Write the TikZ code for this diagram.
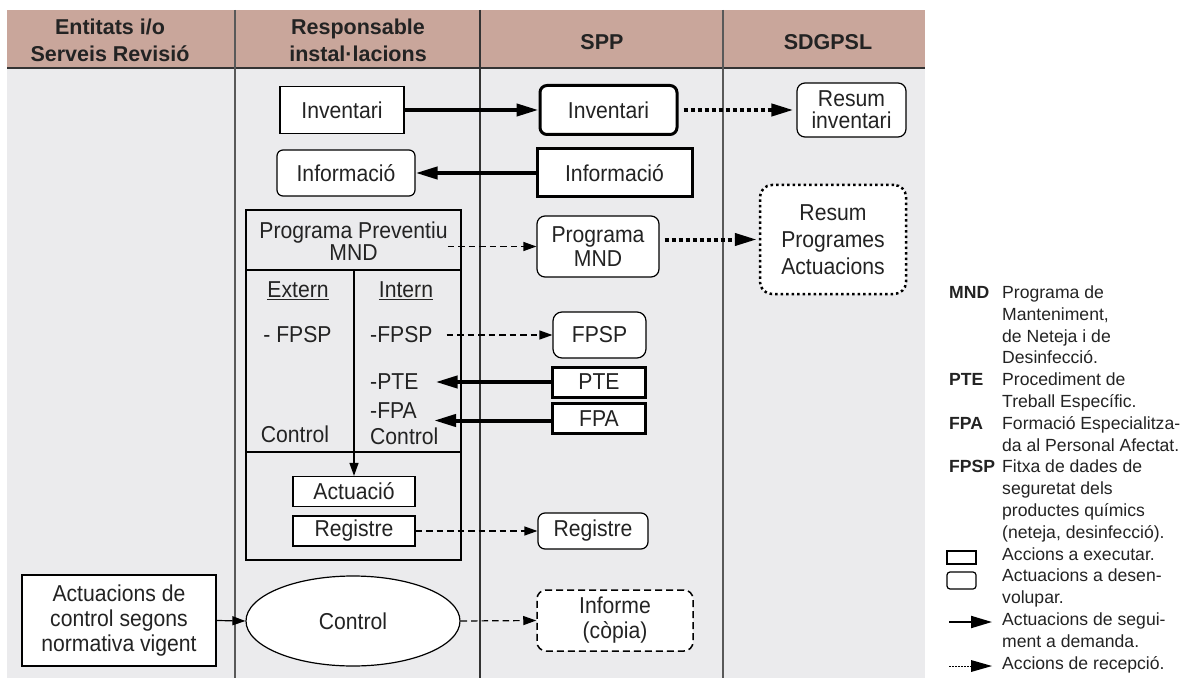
\documentclass[tikz,border=0pt]{standalone}
\usepackage{fontspec}
\setmainfont{Liberation Sans}
\newfontfamily\bodyf{Liberation Sans}[FakeStretch=0.92]
\usetikzlibrary{arrows.meta,shapes.geometric,calc}
\definecolor{hdr}{RGB}{201,166,155}
\definecolor{bodybg}{RGB}{235,235,237}
\definecolor{txt}{RGB}{35,35,35}
\tikzset{
 bx/.style={draw, fill=white, line width=1.2pt, inner sep=0pt, text=txt,
   font=\bodyf\fontsize{23}{24}\selectfont, align=center},
 rbx/.style={bx, rounded corners=6pt},
 thickbx/.style={line width=3pt},
 lbl/.style={inner sep=0pt, text=txt, font=\bodyf\fontsize{23}{24}\selectfont},
 hdrtxt/.style={font=\bfseries\fontsize{21.5}{27}\selectfont, align=center, inner sep=0pt, text=txt},
 leg/.style={font=\fontsize{17.6}{21.8}\selectfont, inner sep=0pt, anchor=base west, text=txt},
 legb/.style={leg, font=\bfseries\fontsize{17.6}{21.8}\selectfont},
 harrow/.style={line width=4pt, -{Triangle[length=22pt,width=12pt]}},
 darrow/.style={line width=1.2pt, dash pattern=on 6.5pt off 4pt, -{Triangle[length=13pt,width=9pt]}},
 dotarrow/.style={line width=4pt, dash pattern=on 4pt off 3pt, -{Triangle[length=22pt,width=12pt]}},
 tarrow/.style={line width=1.2pt, -{Triangle[length=13pt,width=9pt]}},
 colline/.style={line width=1.2pt, draw=black!65},
}
\begin{document}
\begin{tikzpicture}[x=1pt,y=-1pt]
\useasboundingbox (0,0) rectangle (1183,679);
% background bands
\fill[bodybg] (7,68) rectangle (925,678);
\fill[hdr] (7,10) rectangle (925,68);
\draw[line width=1.2pt, draw=black!80] (7,68) -- (925,68);
\draw[colline] (235,10) -- (235,678);
\draw[line width=1.3pt, draw=black!80] (480,10) -- (480,678);
\draw[colline] (723,10) -- (723,678);
% headers
\node[hdrtxt] (h1) at (110,40) {Entitats i/o\\Serveis Revisió};
\node[hdrtxt] (h2) at (358,40) {Responsable\\instal·lacions};
\node[hdrtxt] (h3) at (602,42) {SPP};
\node[hdrtxt] (h4) at (828,42) {SDGPSL};
% top rows
\node[bx, minimum width=124pt, minimum height=47pt] (invL) at (342,110) {Inventari};
\node[rbx, minimum width=138pt, minimum height=46pt] (infL) at (346,173) {Informació};
\node[rbx, thickbx, rounded corners=7pt, minimum width=137pt, minimum height=49pt] (invS) at (608.5,110) {Inventari};
\node[bx, thickbx, minimum width=155pt, minimum height=48pt] (infS) at (614.5,173) {Informació};
\node[rbx, rounded corners=8pt, minimum width=109pt, minimum height=54pt, font=\bodyf\fontsize{23}{22}\selectfont] (resInv) at (851.5,110) {Resum\\inventari};
% programme block
\node[draw, line width=1.2pt, minimum width=215pt, minimum height=350pt, inner sep=0pt] (prog) at (353.5,385) {};
\coordinate (sepL) at (246,270);
\coordinate (sepR) at (461,270);
\coordinate (rowL) at (246,452);
\coordinate (rowR) at (461,452);
\coordinate (divtop) at (354,270);
\draw[line width=1.2pt] (sepL) -- (sepR);
\draw[line width=1.2pt] (rowL) -- (rowR);
\node[lbl, align=center, font=\bodyf\fontsize{23}{22.5}\selectfont] (ptitle) at (353.5,241) {Programa Preventiu\\MND};
\node[rbx, rounded corners=8pt, minimum width=122pt, minimum height=61pt, font=\bodyf\fontsize{23}{24}\selectfont] (progS) at (598,246.5) {Programa\\MND};
\node[rbx, rounded corners=12pt, line width=2.5pt, dash pattern=on 2.5pt off 3pt, minimum width=146pt, minimum height=109pt, font=\bodyf\fontsize{23}{27}\selectfont] (resProg) at (833,239.5) {Resum\\Programes\\Actuacions};
\node[lbl] (ext) at (298,291) {\underline{Extern}};
\node[lbl] (int) at (406,291) {\underline{Intern}};
\node[lbl] (fpspE) at (297.5,335) {- FPSP};
\node[lbl, anchor=west] (fpspI) at (370,335) {-FPSP};
\node[lbl, anchor=west] (pteI) at (370,382) {-PTE};
\node[lbl, anchor=west] (fpaI) at (370,411) {-FPA};
\node[lbl, anchor=west] (ctlI) at (370,436) {Control};
\node[lbl] (ctlE) at (295,434) {Control};
\node[rbx, rounded corners=9pt, minimum width=93pt, minimum height=46pt] (fpsp) at (599.5,335) {FPSP};
\node[bx, thickbx, minimum width=93pt, minimum height=30pt] (pte) at (599,382) {PTE};
\node[bx, thickbx, minimum width=93pt, minimum height=30pt] (fpa) at (599,418.5) {FPA};
\node[bx, minimum width=122pt, minimum height=30pt] (act) at (354,491.5) {Actuació};
\node[bx, minimum width=122pt, minimum height=30pt] (reg) at (354,531) {Registre};
\node[rbx, rounded corners=7pt, minimum width=110pt, minimum height=36pt] (regS) at (593,531) {Registre};
% bottom row
\node[bx, minimum width=194pt, minimum height=91pt, font=\bodyf\fontsize{23}{25}\selectfont] (ctrlBox) at (119,620.5) {Actuacions de\\control segons\\normativa vigent};
\node[bx, ellipse, minimum width=214pt, minimum height=90pt] (ell) at (353,621) {Control};
\node[rbx, rounded corners=9pt, line width=1.5pt, dash pattern=on 7pt off 4pt, minimum width=156pt, minimum height=61pt, font=\bodyf\fontsize{23}{25}\selectfont] (inform) at (615,620.5) {Informe\\(còpia)};
% connectors
\draw[harrow] (invL.east) -- (invS.west);
\draw[harrow] (infS.west) -- (infL.east);
\draw[dotarrow, shorten <=5pt, shorten >=3pt] (invS.east) -- (invS.east -| resInv.west);
\draw[darrow] (ptitle.east |- progS.west) -- (progS.west);
\draw[dotarrow, shorten <=5pt, shorten >=2pt] (progS.east |- resProg.west) -- (resProg.west);
\draw[darrow, shorten <=14pt] (fpspI.east) -- (fpsp.west);
\draw[harrow, shorten >=17pt] (pte.west) -- (pte.west -| pteI.east);
\draw[harrow, shorten >=17pt] ([yshift=-2pt]fpa.west) -- ([yshift=-2pt]fpa.west -| fpaI.east);
\draw[tarrow] (divtop) -- (act.north);
\draw[darrow] (reg.east) -- (regS.west);
\draw[tarrow] (ctrlBox.east) -- (ell.west);
\draw[darrow] (ell.east) -- (inform.west);
% legend
\node[legb] (lgMND) at (949,298.5) {MND};
\node[leg] (lg1) at (1002,298.5) {Programa de};
\node[leg] (lg2) at (1002,320.3) {Manteniment,};
\node[leg] (lg3) at (1002,342.1) {de Neteja i de};
\node[leg] (lg4) at (1002,363.9) {Desinfecció.};
\node[legb] (lgPTE) at (949,385.7) {PTE};
\node[leg] (lg5) at (1002,385.7) {Procediment de};
\node[leg] (lg6) at (1002,407.5) {Treball Específic.};
\node[legb] (lgFPA) at (949,429.3) {FPA};
\node[leg] (lg7) at (1002,429.3) {Formació Especialitza-};
\node[leg] (lg8) at (1002,451.1) {da al Personal Afectat.};
\node[legb] (lgFPSP) at (949,472.9) {FPSP};
\node[leg] (lg9) at (1002,472.9) {Fitxa de dades de};
\node[leg] (lg10) at (1002,494.7) {seguretat dels};
\node[leg] (lg11) at (1002,516.5) {productes químics};
\node[leg] (lg12) at (1002,538.3) {(neteja, desinfecció).};
\node[leg] (lg13) at (1002,560.1) {Accions a executar.};
\node[leg] (lg14) at (1002,581.9) {Actuacions a desen-};
\node[leg] (lg15) at (1002,603.7) {volupar.};
\node[leg] (lg16) at (1002,625.5) {Actuacions de segui-};
\node[leg] (lg17) at (1002,647.3) {ment a demanda.};
\node[leg] (lg18) at (1002,669.1) {Accions de recepció.};
\draw[line width=1.2pt] (947,551) rectangle (976,564);
\draw[line width=1.2pt, rounded corners=3pt] (947,572) rectangle (976,589);
\draw[line width=2pt, -{Triangle[length=21pt,width=12pt]}] (949,622) -- (992,622);
\draw[line width=1pt, dash pattern=on 1.5pt off 1.5pt] (949,666) -- (972,666);
\fill (971,660) -- (992,666) -- (971,672) -- cycle;
\end{tikzpicture}
\end{document}
